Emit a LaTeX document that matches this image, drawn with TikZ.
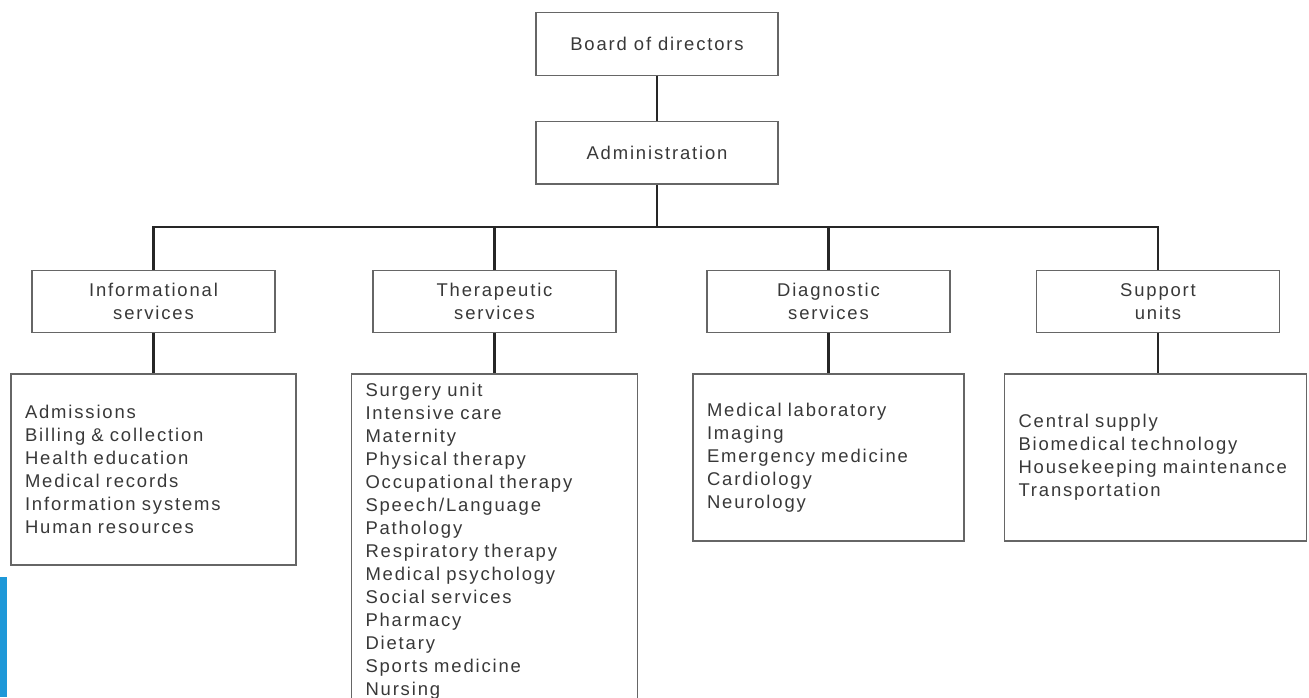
\documentclass[tikz,border=0pt]{standalone}
\usepackage{fontspec}
\setmainfont[LetterSpace=10]{Liberation Sans}
\usetikzlibrary{positioning}
\definecolor{boxgrey}{HTML}{666666}
\definecolor{inkgrey}{HTML}{383838}
\definecolor{scanblue}{HTML}{1E98D8}

\begin{document}
\begin{tikzpicture}
    \tikzstyle{head} = [rectangle, draw=boxgrey, line width=0.8pt, minimum width=4.84cm, minimum height=1.25cm, text=inkgrey, font=\fontsize{10.5}{13.4}\selectfont, align=center]
    \tikzstyle{unit} = [head, minimum width=4.86cm]
    \tikzstyle{list} = [rectangle, draw=boxgrey, line width=0.8pt, inner xsep=0.28cm, inner ysep=0.17cm, text=inkgrey, font=\fontsize{10.5}{13.1}\selectfont, align=left]
    \tikzstyle{link} = [line width=1.4pt, draw=black!85]

    \useasboundingbox (0,0) rectangle (26.18,-13.94);
    \clip (0,0) rectangle (26.18,-13.94);
    \fill [scanblue] (0,-11.54) rectangle (0.15,-13.94);

    % top of the tree
    \node [head] (board) at (13.14,-0.88) {Board of directors};
    \node [head, below=0.9cm of board] (admin) {Administration};

    % the four groups
    \node [unit] (info) at (3.07,-6.03) {Informational\\services};
    \node [unit] (ther) at (9.89,-6.03) {Therapeutic\\services};
    \node [unit] (diag) at (16.57,-6.03) {Diagnostic\\services};
    \node [unit] (supp) at (23.16,-6.03) {Support\\units};

    % what each group holds
    \node [list, text width=5.14cm, minimum height=3.82cm, below=0.8cm of info] (infolist) {Admissions\\Billing \& collection\\Health education\\Medical records\\Information systems\\Human resources};
    \node [list, text width=5.16cm, below=0.8cm of ther] (therlist) {Surgery unit\\Intensive care\\Maternity\\Physical therapy\\Occupational therapy\\Speech/Language\\Pathology\\Respiratory therapy\\Medical psychology\\Social services\\Pharmacy\\Dietary\\Sports medicine\\Nursing};
    \node [list, text width=4.86cm, minimum height=3.34cm, below=0.8cm of diag] (diaglist) {Medical laboratory\\Imaging\\Emergency medicine\\Cardiology\\Neurology};
    \node [list, text width=5.48cm, minimum height=3.34cm, below=0.8cm of supp, xshift=-0.05cm] (supplist) {Central supply\\Biomedical technology\\Housekeeping maintenance\\Transportation};

    \draw [link] (board.south) -- (admin.north);
    \draw [link] (admin.south) -- ++(0,-0.84) coordinate (bus);
    \draw [link] (info.north) -- (info.north |- bus) -- (supp.north |- bus) -- (supp.north);
    \draw [link] (ther.north) -- (ther.north |- bus);
    \draw [link] (diag.north) -- (diag.north |- bus);

    \draw [link] (info.south) -- (infolist.north);
    \draw [link] (ther.south) -- (therlist.north);
    \draw [link] (diag.south) -- (diaglist.north);
    \draw [link] (supp.south) -- (supp.south |- supplist.north);
\end{tikzpicture}
\end{document}
